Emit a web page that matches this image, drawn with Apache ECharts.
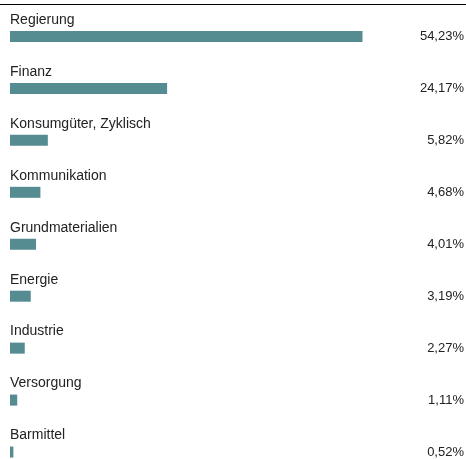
<!DOCTYPE html>
<html>
<head>
<meta charset="utf-8">
<script src="https://cdn.jsdelivr.net/npm/echarts@6/dist/echarts.min.js"></script>
<style>
  html, body { margin: 0; padding: 0; background: #fff; }
  #echart { width: 466px; height: 459px; }
</style>
</head>
<body>
<div id="echart"></div>
<script>
// sector allocation, values in percent
var sectors = ['Regierung', 'Finanz', 'Konsumgüter, Zyklisch', 'Kommunikation',
	'Grundmaterialien', 'Energie', 'Industrie', 'Versorgung', 'Barmittel'];
var weights = [54.23, 24.17, 5.82, 4.68, 4.01, 3.19, 2.27, 1.11, 0.52];

function fmtPct(v) {
	return v.toFixed(2).replace('.', ',') + '%';
}

var eChart = echarts.init(document.getElementById('echart'));

var textColor = '#222222';
var fontFamily = '"Liberation Sans", Arial, sans-serif';

var eChartOption = {
	animation: false,
	grid: {
		left: 10,
		right: 1,
		top: 10.5,
		bottom: -19,
		outerBoundsMode: 'none',
		containLabel: false
	},
	graphic: [{
		type: 'line',
		shape: { x1: 0, y1: 4.5, x2: 466, y2: 4.5 },
		style: { stroke: '#000', lineWidth: 1.2 }
	}],
	xAxis: {
		type: 'value',
		min: 0,
		max: 70,
		show: false
	},
	yAxis: [
		{
			type: 'category',
			data: sectors,
			inverse: true,
			show: false
		},
		{
			type: 'category',
			data: weights.map(fmtPct),
			inverse: true,
			position: 'right',
			axisLine: { show: false },
			axisTick: { show: false },
			axisLabel: {
				align: 'right',
				margin: -1,
				color: textColor,
				fontSize: 13,
				fontFamily: fontFamily
			}
		}
	],
	series: [
		{
			type: 'bar',
			data: weights,
			barWidth: 11,
			itemStyle: { color: '#548c92' },
			label: {
				show: true,
				position: [0, -18],
				formatter: '{b}',
				color: textColor,
				fontSize: 14,
				fontFamily: fontFamily
			}
		}
	]
};

eChart.setOption(eChartOption);
</script>
</body>
</html>
